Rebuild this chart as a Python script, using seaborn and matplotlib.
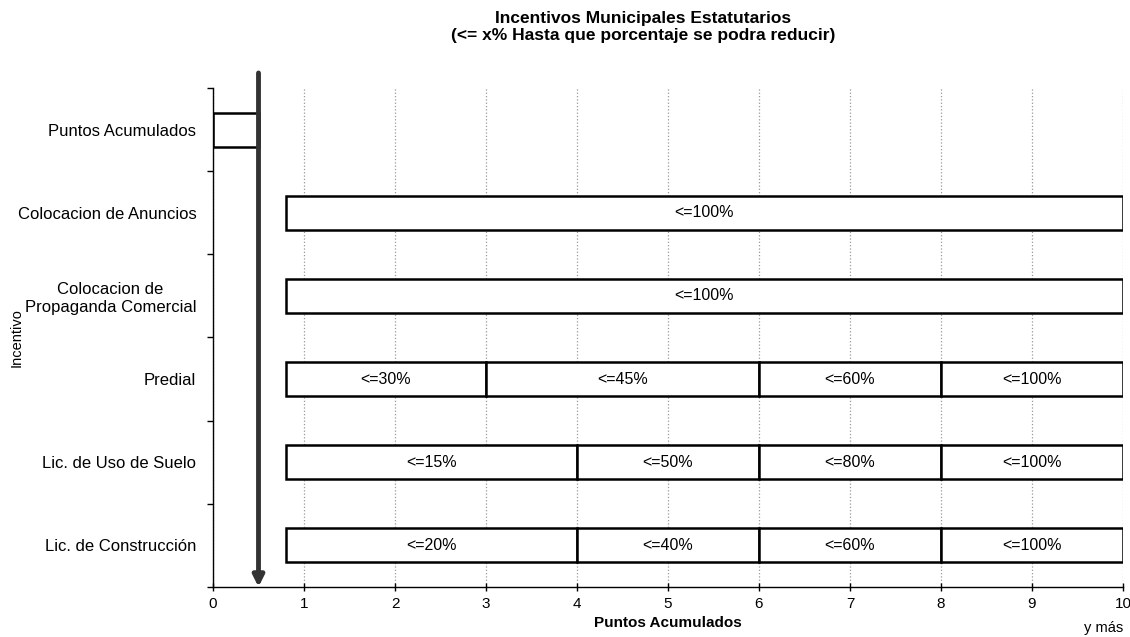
import pandas as pd
import matplotlib.pyplot as plt
import seaborn as sns

# datos
incentivos = ["Puntos Acumulados", "Colocacion de Anuncios",
              "Colocacion de\nPropaganda Comercial", "Predial",
              "Lic. de Uso de Suelo", "Lic. de Construcción"]

seg_incentivo = [incentivos[0],
                 incentivos[1],
                 incentivos[2],
                 incentivos[3], incentivos[3], incentivos[3], incentivos[3],
                 incentivos[4], incentivos[4], incentivos[4], incentivos[4],
                 incentivos[5], incentivos[5], incentivos[5], incentivos[5]]
seg_inicio = [0, 0.8, 0.8, 0.8, 3, 6, 8, 0.8, 4, 6, 8, 0.8, 4, 6, 8]
seg_fin = [0.5, 10, 10, 3, 6, 8, 10, 4, 6, 8, 10, 4, 6, 8, 10]
seg_etiqueta = ["", "<=100%", "<=100%",
                "<=30%", "<=45%", "<=60%", "<=100%",
                "<=15%", "<=50%", "<=80%", "<=100%",
                "<=20%", "<=40%", "<=60%", "<=100%"]

puntos_ticks = list(range(0, 11))
marca_puntos = 0.5


def build_df():
    df = pd.DataFrame({'incentivo': seg_incentivo, 'inicio': seg_inicio,
                       'fin': seg_fin, 'etiqueta': seg_etiqueta})
    df['ancho'] = df['fin'] - df['inicio']
    return df


def plot_incentivos(df):
    sns.set_theme(style="white")
    plt.rcParams['font.family'] = ['Liberation Sans', 'DejaVu Sans']
    for k in ['text.color', 'axes.labelcolor', 'xtick.color', 'ytick.color']:
        plt.rcParams[k] = 'black'

    fig = plt.figure(figsize=(11.3, 6.37), dpi=100)
    ax = fig.add_axes([0.1885, 0.0785, 0.8053, 0.7834])

    # un barplot por cada punto de inicio (segmentos apilados)
    for ini in sorted(df['inicio'].unique()):
        sub = df[df['inicio'] == ini]
        sns.barplot(data=sub, x='ancho', y='incentivo', order=incentivos,
                    orient='y', left=ini, width=0.41, color='white',
                    facecolor='white', edgecolor='black', linewidth=1.8,
                    saturation=1, errorbar=None, ax=ax, zorder=2)

    for _, r in df.iterrows():
        if r['etiqueta']:
            ax.text((r['inicio'] + r['fin']) / 2, incentivos.index(r['incentivo']),
                    r['etiqueta'], ha='center', va='center', fontsize=11.5, zorder=3)

    ax.set_xlim(0, 10)
    ax.set_ylim(len(incentivos) - 0.5, -0.5)
    ax.set_xticks(puntos_ticks)
    ax.set_yticks(range(len(incentivos)))
    ax.set_yticks([i - 0.5 for i in range(len(incentivos) + 1)], minor=True)
    ax.set_yticklabels(incentivos, fontsize=12)
    for lab in ax.get_yticklabels():
        lab.set_multialignment('center')
    ax.tick_params(axis='y', which='major', left=True, length=0, pad=12)
    ax.tick_params(axis='y', which='minor', left=True, length=4, width=1,
                   color='black', direction='out')
    ax.tick_params(axis='x', which='major', bottom=True, length=6, width=1,
                   color='black', direction='inout', labelsize=11, pad=4)

    ax.grid(axis='x', linestyle=':', color='#999999', linewidth=0.9)
    ax.set_axisbelow(True)
    sns.despine(ax=ax)
    for s in ['left', 'bottom']:
        ax.spines[s].set_color('black')
        ax.spines[s].set_linewidth(1.0)

    # flecha de los puntos acumulados
    ax.annotate('', xy=(marca_puntos, len(incentivos) - 0.5),
                xytext=(marca_puntos, -0.68), annotation_clip=False,
                arrowprops=dict(arrowstyle='-|>', color='#333333', lw=3.5,
                                mutation_scale=16, shrinkA=0, shrinkB=0),
                zorder=4)

    ax.text(10, -0.083, 'y más', transform=ax.get_xaxis_transform(),
            ha='right', va='center', fontsize=10.5)
    ax.set_xlabel('Puntos Acumulados', fontsize=11, fontweight='bold', labelpad=4)
    ax.set_ylabel('Incentivo', fontsize=10.5)
    ax.yaxis.set_label_coords(-0.208, 0.5)

    fig.text(0.569, 0.982, 'Incentivos Municipales Estatutarios\n'
             '(<= x% Hasta que porcentaje se podra reducir)',
             ha='center', va='top', fontsize=12.5, fontweight='bold',
             linespacing=1.15)

    fig.savefig('out.png', dpi=100)


if __name__ == "__main__":
    df = build_df()
    plot_incentivos(df)
